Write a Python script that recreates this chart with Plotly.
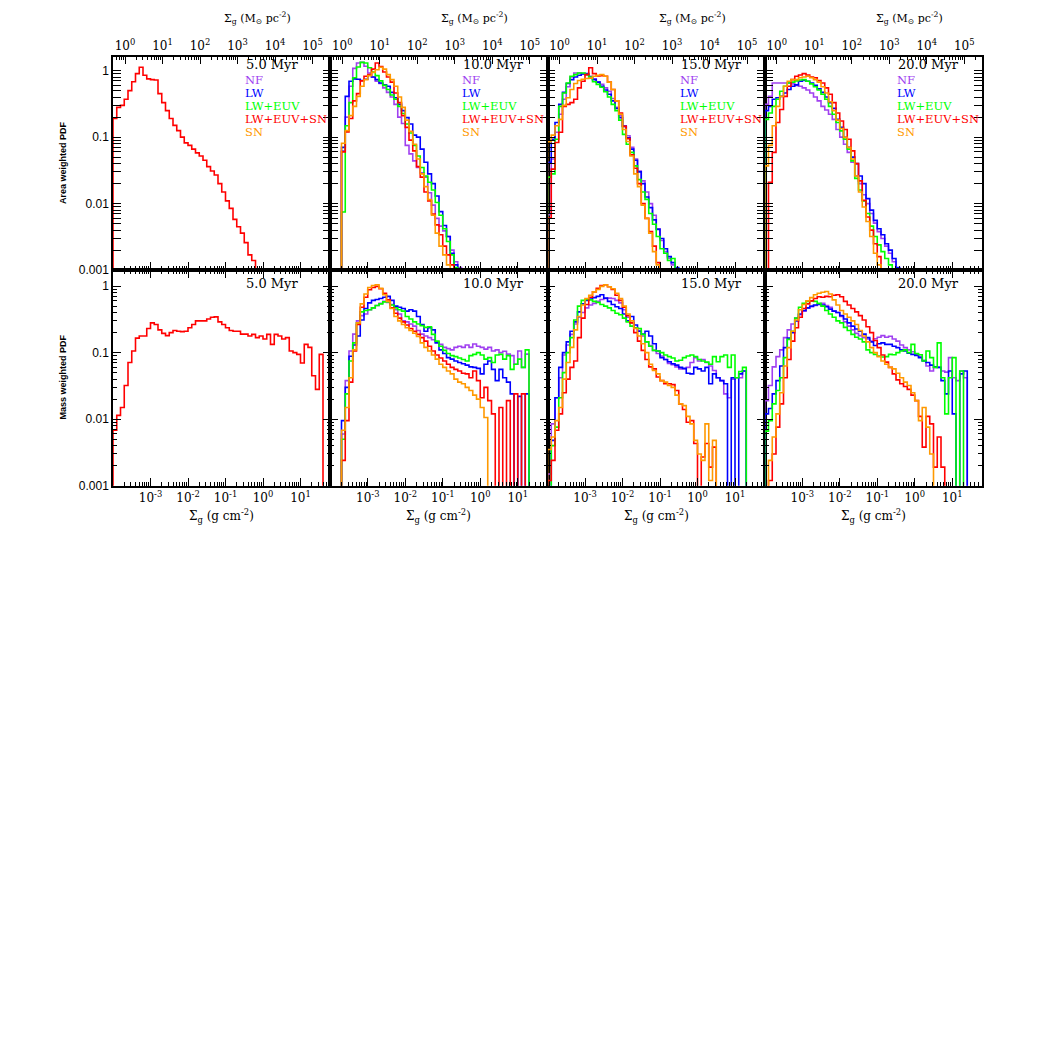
import numpy as np
import plotly.graph_objects as go

# ---------------- data (PDF values per 0.1-dex bin of log10 Sigma_g [g cm^-2]) ----------------
BIN_DEX = 0.1
LOG_G_TO_MSUN = 3.68          # 1 g cm^-2 = 10^3.68 Msun pc^-2
times = ["5.0 Myr", "10.0 Myr", "15.0 Myr", "20.0 Myr"]
models = ["NF", "LW", "LW+EUV", "LW+EUV+SN", "SN"]
model_colors = ["#A040F0", "#0000FF", "#00FF00", "#FF0000", "#FF9900"]

x_tick_vals = [1e-3, 1e-2, 1e-1, 1e0, 1e1]
x_tick_text = ["10<sup>-3</sup>", "10<sup>-2</sup>", "10<sup>-1</sup>", "10<sup>0</sup>", "10<sup>1</sup>"]
top_tick_vals = [1e0, 1e1, 1e2, 1e3, 1e4, 1e5]
top_tick_text = ["10<sup>0</sup>", "10<sup>1</sup>", "10<sup>2</sup>", "10<sup>3</sup>", "10<sup>4</sup>", "10<sup>5</sup>"]
y_tick_vals = [1e-3, 1e-2, 1e-1, 1e0]
y_tick_text = ["0.001", "0.01", "0.1", "1"]

# --- area weighted, 5 Myr (all runs identical) ---
area05_start = -4.0
area05_all = [0.19, 0.28, 0.30, 0.37, 0.50, 0.68, 0.90, 1.12, 0.85, 0.75, 0.73, 0.72, 0.45, 0.33, 0.25,
              0.19, 0.15, 0.125, 0.10, 0.082, 0.075, 0.066, 0.058, 0.052, 0.045, 0.036, 0.031, 0.027,
              0.020, 0.015, 0.011, 0.0085, 0.0058, 0.0045, 0.0036, 0.0026, 0.0017, 0.0014]

# --- area weighted, 10 Myr ---
area10_start = -3.7
area10_NF = [0.062, 0.2, 0.58, 1.08, 1.30, 1.33, 1.16, 0.92, 0.80, 0.69, 0.64, 0.55, 0.47, 0.40, 0.31,
             0.20, 0.16, 0.075, 0.056, 0.044, 0.035, 0.029, 0.025, 0.0146, 0.0095, 0.006, 0.0046,
             0.0039, 0.0032, 0.0020, 0.00134, 0.0011]
area10_LW = [0.07, 0.41, 0.69, 0.75, 0.74, 0.71, 0.74, 0.85, 0.80, 0.73, 0.65, 0.61, 0.58, 0.47, 0.39,
             0.31, 0.25, 0.196, 0.157, 0.107, 0.10, 0.066, 0.042, 0.028, 0.020, 0.013, 0.0076, 0.0047,
             0.0032, 0.0018, 0.0012]
area10_EUV = [0.0075, 0.148, 0.33, 0.78, 1.13, 1.33, 1.30, 1.10, 0.95, 0.84, 0.70, 0.60, 0.52, 0.43,
              0.37, 0.29, 0.226, 0.157, 0.115, 0.075, 0.052, 0.035, 0.026, 0.021, 0.016, 0.0104,
              0.0067, 0.0042, 0.0027, 0.0017, 0.0011]
area10_EUVSN = [0.06, 0.12, 0.19, 0.35, 0.45, 0.70, 0.82, 0.87, 1.05, 1.30, 1.15, 0.95, 0.80, 0.67,
                0.46, 0.33, 0.21, 0.14, 0.09, 0.062, 0.036, 0.025, 0.015, 0.011, 0.007, 0.0048,
                0.0034, 0.0023, 0.0017, 0.0012]
area10_SN = [0.081, 0.125, 0.21, 0.29, 0.41, 0.58, 0.73, 0.84, 0.94, 1.03, 1.12, 1.05, 0.87, 0.73,
             0.58, 0.40, 0.28, 0.18, 0.122, 0.078, 0.047, 0.028, 0.018, 0.0115, 0.0067, 0.0036,
             0.0023, 0.0017, 0.0012]

# --- area weighted, 15 Myr ---
area15_start = -4.0
area15_NF = [0.0068, 0.047, 0.118, 0.22, 0.37, 0.57, 0.80, 0.92, 0.92, 0.90, 0.87, 0.82, 0.75, 0.67,
             0.62, 0.55, 0.49, 0.38, 0.28, 0.21, 0.148, 0.105, 0.07, 0.047, 0.031, 0.022, 0.015,
             0.01, 0.0067, 0.0042, 0.0028, 0.0019, 0.0015, 0.0012]
area15_LW = [0.042, 0.093, 0.166, 0.31, 0.47, 0.64, 0.73, 0.80, 0.85, 0.89, 0.90, 0.80, 0.73, 0.67,
             0.58, 0.51, 0.44, 0.35, 0.27, 0.196, 0.145, 0.098, 0.066, 0.045, 0.030, 0.020, 0.0126,
             0.0087, 0.0057, 0.0041, 0.003, 0.0021, 0.0016, 0.0013, 0.0011]
area15_EUV = [0.025, 0.028, 0.093, 0.29, 0.46, 0.65, 0.82, 0.87, 0.92, 0.92, 0.87, 0.80, 0.68, 0.62,
              0.56, 0.48, 0.40, 0.31, 0.25, 0.18, 0.11, 0.078, 0.059, 0.037, 0.023, 0.015, 0.0116,
              0.0071, 0.0049, 0.0032, 0.0021, 0.0018, 0.0014, 0.0015]
area15_EUVSN = [0.0061, 0.033, 0.083, 0.118, 0.29, 0.31, 0.33, 0.37, 0.55, 0.69, 0.87, 1.10, 0.90,
                0.83, 0.84, 0.82, 0.67, 0.52, 0.35, 0.23, 0.145, 0.095, 0.054, 0.034, 0.020, 0.010,
                0.006, 0.0038, 0.0023, 0.0013]
area15_SN = [0.085, 0.107, 0.148, 0.185, 0.30, 0.39, 0.52, 0.64, 0.71, 0.74, 0.76, 0.77, 0.82, 0.85,
             0.87, 0.82, 0.67, 0.52, 0.35, 0.22, 0.13, 0.086, 0.052, 0.028, 0.018, 0.0095, 0.006,
             0.0036, 0.0019, 0.0012]

# --- area weighted, 20 Myr ---
area20_start = -4.0
area20_red_start = -3.9
area20_NF = [0.31, 0.41, 0.65, 0.65, 0.65, 0.65, 0.65, 0.63, 0.60, 0.58, 0.55, 0.51, 0.46, 0.40, 0.35,
             0.29, 0.256, 0.22, 0.185, 0.13, 0.10, 0.078, 0.059, 0.042, 0.026, 0.020, 0.0136, 0.010,
             0.0071, 0.0051, 0.0038, 0.0030, 0.0023, 0.0018, 0.00134]
area20_LW = [0.25, 0.29, 0.37, 0.39, 0.41, 0.46, 0.52, 0.58, 0.61, 0.69, 0.71, 0.69, 0.65, 0.60, 0.53,
             0.47, 0.40, 0.33, 0.27, 0.185, 0.14, 0.099, 0.070, 0.050, 0.040, 0.026, 0.020, 0.0119,
             0.0080, 0.0056, 0.0042, 0.0034, 0.0025, 0.0020, 0.0015, 0.0011]
area20_EUV = [0.185, 0.23, 0.29, 0.37, 0.49, 0.58, 0.65, 0.67, 0.70, 0.72, 0.73, 0.69, 0.63, 0.57,
              0.51, 0.44, 0.37, 0.29, 0.22, 0.166, 0.124, 0.093, 0.066, 0.044, 0.024, 0.016, 0.011,
              0.0071, 0.0046, 0.0032, 0.0024, 0.0019, 0.0015, 0.0012]
area20_EUVSN = [0.021, 0.059, 0.166, 0.26, 0.41, 0.58, 0.73, 0.82, 0.86, 0.90, 0.86, 0.80, 0.78, 0.71,
                0.65, 0.55, 0.44, 0.33, 0.23, 0.175, 0.13, 0.093, 0.062, 0.040, 0.022, 0.0112,
                0.0063, 0.0040, 0.0025, 0.0016]
area20_SN = [0.037, 0.075, 0.148, 0.29, 0.41, 0.58, 0.69, 0.73, 0.73, 0.78, 0.80, 0.82, 0.78, 0.73,
             0.67, 0.57, 0.46, 0.34, 0.25, 0.18, 0.135, 0.099, 0.070, 0.047, 0.026, 0.015, 0.0089,
             0.0054, 0.0032, 0.0018, 0.0012]

# --- mass weighted, 5 Myr (all runs identical) ---
mass05_start = -4.0
mass05_all = [0.0068, 0.0114, 0.015, 0.032, 0.071, 0.106, 0.165, 0.178, 0.178, 0.23, 0.28, 0.265, 0.22,
              0.195, 0.18, 0.20, 0.215, 0.21, 0.207, 0.21, 0.236, 0.265, 0.30, 0.30, 0.30, 0.32, 0.34,
              0.345, 0.29, 0.265, 0.236, 0.215, 0.21, 0.21, 0.19, 0.19, 0.178, 0.188, 0.168, 0.178,
              0.16, 0.188, 0.133, 0.188, 0.178, 0.16, 0.168, 0.106, 0.10, 0.094, 0.07, 0.133, 0.12,
              0.045, 0.028, 0.094]

# --- mass weighted, 10 Myr ---
mass10_start = -3.7
mass10_NF = [0.006, 0.038, 0.106, 0.19, 0.30, 0.36, 0.38, 0.44, 0.47, 0.51, 0.55, 0.59, 0.57, 0.53,
             0.44, 0.38, 0.30, 0.29, 0.27, 0.25, 0.215, 0.19, 0.178, 0.168, 0.156, 0.145, 0.133, 0.12,
             0.115, 0.11, 0.12, 0.125, 0.12, 0.13, 0.12, 0.135, 0.125, 0.12, 0.113, 0.12, 0.106,
             0.11, 0.10, 0.105, 0.095, 0.09, 0.067, 0.106, 0.06, 0.095]
mass10_LW = [0.0095, 0.030, 0.088, 0.13, 0.178, 0.31, 0.46, 0.56, 0.61, 0.63, 0.65, 0.68, 0.70, 0.61,
             0.50, 0.48, 0.46, 0.42, 0.44, 0.42, 0.35, 0.265, 0.21, 0.236, 0.22, 0.14, 0.11, 0.097,
             0.084, 0.08, 0.075, 0.071, 0.068, 0.065, 0.061, 0.06, 0.058, 0.048, 0.067, 0.075, 0.056,
             0.038, 0.056, 0.042, 0.036, 0.024, 0, 0.022, 0, 0.024]
mass10_EUV = [0.005, 0.024, 0.075, 0.14, 0.28, 0.41, 0.43, 0.44, 0.47, 0.51, 0.54, 0.58, 0.58, 0.52,
              0.47, 0.44, 0.42, 0.35, 0.32, 0.29, 0.27, 0.255, 0.24, 0.245, 0.188, 0.149, 0.125,
              0.108, 0.097, 0.09, 0.087, 0.083, 0.079, 0.075, 0.09, 0.094, 0.10, 0.092, 0.08, 0.084,
              0.071, 0.092, 0.094, 0.08, 0.09, 0.056, 0.067, 0.08, 0.06, 0.11]
mass10_EUVSN = [0.0024, 0.0095, 0.036, 0.106, 0.265, 0.48, 0.68, 0.88, 0.95, 0.99, 0.91, 0.78, 0.62,
                0.47, 0.39, 0.33, 0.29, 0.26, 0.23, 0.21, 0.188, 0.168, 0.149, 0.125, 0.106, 0.092,
                0.083, 0.075, 0.067, 0.06, 0.056, 0.053, 0.049, 0.048, 0.042, 0.053, 0.038, 0.021,
                0.03, 0.019, 0.012, 0, 0.015, 0, 0.019, 0, 0.024, 0, 0.024]
mass10_SN = [0.0068, 0.015, 0.042, 0.11, 0.28, 0.54, 0.76, 0.95, 1.02, 1.05, 0.93, 0.74, 0.59, 0.46,
             0.35, 0.30, 0.265, 0.236, 0.215, 0.196, 0.175, 0.14, 0.12, 0.106, 0.092, 0.08, 0.067,
             0.06, 0.053, 0.048, 0.04, 0.036, 0.034, 0.030, 0.027, 0.023, 0.020, 0.015, 0.0106]

# --- mass weighted, 15 Myr ---
mass15_start = -4.0
mass15_late_start = -3.9
mass15_NF = [0.0015, 0.0085, 0.021, 0.042, 0.092, 0.13, 0.188, 0.27, 0.34, 0.40, 0.47, 0.52, 0.55,
             0.59, 0.63, 0.65, 0.66, 0.65, 0.61, 0.56, 0.44, 0.34, 0.28, 0.236, 0.215, 0.178, 0.145,
             0.128, 0.108, 0.097, 0.089, 0.079, 0.069, 0.066, 0.061, 0.057, 0.057, 0.06, 0.071,
             0.084, 0.075, 0.079, 0.071, 0.063, 0.054, 0.042, 0.038, 0.024, 0.021, 0.040, 0.042,
             0.042, 0.053]
mass15_LW = [0.0048, 0.021, 0.06, 0.10, 0.145, 0.21, 0.29, 0.41, 0.54, 0.61, 0.64, 0.67, 0.70, 0.74,
             0.66, 0.59, 0.53, 0.49, 0.46, 0.38, 0.30, 0.35, 0.26, 0.21, 0.19, 0.21, 0.178, 0.136,
             0.106, 0.084, 0.079, 0.073, 0.068, 0.065, 0.06, 0.058, 0.049, 0.048, 0.06, 0.057,
             0.053, 0.06, 0.034, 0.048, 0.042, 0.038, 0.034, 0, 0.042, 0, 0.048, 0.053]
mass15_EUV = [0.004, 0.0076, 0.021, 0.050, 0.10, 0.168, 0.31, 0.50, 0.61, 0.63, 0.62, 0.59, 0.57, 0.53,
              0.50, 0.47, 0.43, 0.39, 0.37, 0.33, 0.29, 0.25, 0.236, 0.23, 0.188, 0.145, 0.125,
              0.108, 0.106, 0.10, 0.092, 0.087, 0.083, 0.075, 0.077, 0.084, 0.089, 0.092, 0.087,
              0.079, 0.075, 0.072, 0.067, 0.087, 0.073, 0.087, 0.092, 0.06, 0.092, 0.042, 0.052, 0.06]
mass15_EUVSN = [0.0012, 0.0024, 0.0068, 0.012, 0.025, 0.040, 0.060, 0.075, 0.168, 0.33, 0.53, 0.68,
                0.82, 0.93, 1.02, 1.05, 0.98, 0.89, 0.73, 0.61, 0.48, 0.36, 0.28, 0.20, 0.149, 0.108,
                0.079, 0.061, 0.057, 0.043, 0.038, 0.034, 0.034, 0.033, 0.027, 0.017, 0.014, 0.009,
                0.0095, 0.0043, 0, 0.0027, 0.0043, 0.0019, 0.0038]
mass15_SN = [0.0035, 0.0054, 0.0095, 0.015, 0.040, 0.071, 0.12, 0.22, 0.35, 0.52, 0.65, 0.73, 0.82,
             0.89, 0.99, 1.05, 0.98, 0.91, 0.78, 0.65, 0.50, 0.38, 0.30, 0.23, 0.178, 0.136, 0.10,
             0.067, 0.054, 0.048, 0.038, 0.036, 0.032, 0.030, 0.023, 0.017, 0.016, 0.011, 0.0085,
             0.0048, 0.0030, 0.0024, 0.0085, 0.0012, 0.0048]

# --- mass weighted, 20 Myr ---
mass20_start = -4.0
mass20_late_start = -3.9
mass20_NF = [0.019, 0.032, 0.061, 0.087, 0.11, 0.168, 0.22, 0.27, 0.33, 0.37, 0.42, 0.47, 0.49, 0.51,
             0.54, 0.55, 0.51, 0.48, 0.42, 0.40, 0.35, 0.29, 0.25, 0.22, 0.195, 0.18, 0.168, 0.16,
             0.149, 0.162, 0.17, 0.18, 0.17, 0.176, 0.16, 0.149, 0.13, 0.119, 0.11, 0.103, 0.094,
             0.087, 0.077, 0.063, 0.053, 0.06, 0.06, 0.053, 0.051, 0.084, 0.042, 0.038, 0.053, 0.042]
mass20_LW = [0.012, 0.0145, 0.024, 0.038, 0.063, 0.119, 0.165, 0.20, 0.30, 0.38, 0.43, 0.47, 0.50, 0.52,
             0.53, 0.52, 0.49, 0.45, 0.42, 0.40, 0.36, 0.32, 0.28, 0.25, 0.226, 0.21, 0.19, 0.168,
             0.145, 0.128, 0.136, 0.14, 0.133, 0.133, 0.125, 0.119, 0.11, 0.106, 0.098, 0.094, 0.091,
             0.084, 0.075, 0.071, 0.065, 0.061, 0.06, 0.038, 0.024, 0.053, 0.012, 0, 0.048, 0.053]
mass20_EUV = [0.0066, 0.0095, 0.017, 0.027, 0.042, 0.084, 0.158, 0.21, 0.33, 0.48, 0.55, 0.59, 0.60,
              0.59, 0.55, 0.50, 0.43, 0.38, 0.34, 0.30, 0.28, 0.24, 0.215, 0.188, 0.17, 0.16, 0.145,
              0.11, 0.10, 0.094, 0.089, 0.086, 0.087, 0.094, 0.093, 0.10, 0.106, 0.11, 0.10, 0.133,
              0.097, 0.093, 0.075, 0.106, 0.084, 0.06, 0.14, 0.042, 0.012, 0.042, 0.084, 0, 0.053]
mass20_EUVSN = [0.0012, 0.003, 0.0076, 0.017, 0.042, 0.079, 0.149, 0.236, 0.34, 0.46, 0.54, 0.60, 0.65,
                0.69, 0.68, 0.70, 0.69, 0.73, 0.74, 0.69, 0.59, 0.52, 0.46, 0.41, 0.36, 0.31, 0.245,
                0.20, 0.152, 0.119, 0.092, 0.072, 0.06, 0.048, 0.039, 0.034, 0.031, 0.028, 0.023,
                0.019, 0.011, 0.0038, 0.011, 0.0085, 0.0019, 0.0054, 0.0019]
mass20_SN = [0.0024, 0.0054, 0.012, 0.025, 0.063, 0.119, 0.21, 0.31, 0.44, 0.53, 0.60, 0.67, 0.74, 0.78,
             0.81, 0.83, 0.76, 0.62, 0.52, 0.43, 0.38, 0.34, 0.30, 0.265, 0.215, 0.178, 0.145, 0.119,
             0.10, 0.087, 0.075, 0.067, 0.06, 0.057, 0.049, 0.042, 0.036, 0.032, 0.025, 0.019,
             0.0095, 0.015, 0.0076, 0.003]

# (model index, first-bin log edge, values) per panel
panel_series = {
    (0, 0): [(3, area05_start, area05_all)],
    (0, 1): [(0, area10_start, area10_NF), (1, area10_start, area10_LW), (2, area10_start, area10_EUV),
             (3, area10_start, area10_EUVSN), (4, area10_start, area10_SN)],
    (0, 2): [(0, area15_start, area15_NF), (1, area15_start, area15_LW), (2, area15_start, area15_EUV),
             (3, area15_start, area15_EUVSN), (4, area15_start, area15_SN)],
    (0, 3): [(0, area20_start, area20_NF), (1, area20_start, area20_LW), (2, area20_start, area20_EUV),
             (3, area20_red_start, area20_EUVSN), (4, area20_start, area20_SN)],
    (1, 0): [(3, mass05_start, mass05_all)],
    (1, 1): [(0, mass10_start, mass10_NF), (1, mass10_start, mass10_LW), (2, mass10_start, mass10_EUV),
             (3, mass10_start, mass10_EUVSN), (4, mass10_start, mass10_SN)],
    (1, 2): [(0, mass15_start, mass15_NF), (1, mass15_late_start, mass15_LW),
             (2, mass15_late_start, mass15_EUV), (3, mass15_start, mass15_EUVSN),
             (4, mass15_start, mass15_SN)],
    (1, 3): [(0, mass20_start, mass20_NF), (1, mass20_start, mass20_LW), (2, mass20_start, mass20_EUV),
             (3, mass20_late_start, mass20_EUVSN), (4, mass20_late_start, mass20_SN)],
}

# ---------------- layout geometry ----------------
PAGE = 1038
BODY_MARGIN = 8                     # default page margin around the plot div
W = H = PAGE - 2 * BODY_MARGIN
FLOOR = 1e-7
PANEL_W = 217.25
COL_LEFT = [113 + PANEL_W * i for i in range(4)]
ROW_PX = [(57, 272), (272, 489)]
X_RANGE = [-4.0, -4.0 + PANEL_W / 37.5]
Y_RANGES = [[-3.0, 0.209], [-3.0, 0.239]]

SERIF = "DejaVu Serif"
SANS = "Liberation Sans"


def fx(p):
    return (p - BODY_MARGIN) / W


def fy(p):
    return 1 - (p - BODY_MARGIN) / H


def minor_vals(d0, d1):
    return [m * 10.0 ** d for d in range(d0, d1) for m in range(2, 10)]


def step_xy(start, vals):
    edges = 10 ** (start + BIN_DEX * np.arange(len(vals) + 1))
    v = [val if val > 0 else FLOOR for val in vals]
    xs = [edges[0]] + list(edges[:-1]) + [edges[-1]]
    ys = [FLOOR] + v + [FLOOR]
    return xs, ys


fig = go.Figure()
layout = dict(width=W, height=H, margin=dict(l=0, r=0, t=0, b=0), showlegend=False,
              plot_bgcolor="white", paper_bgcolor="white", hovermode=False)

tick_common = dict(showline=True, linecolor="black", linewidth=1.5, ticks="inside", ticklen=8,
                   tickwidth=1.3, tickcolor="black", showgrid=False, zeroline=False)

for r in range(2):
    for c in range(4):
        idx = r * 4 + c + 1
        xn = "xaxis" if idx == 1 else f"xaxis{idx}"
        yn = "yaxis" if idx == 1 else f"yaxis{idx}"
        xa = "x" if idx == 1 else f"x{idx}"
        ya = "y" if idx == 1 else f"y{idx}"
        L = COL_LEFT[c]
        layout[xn] = dict(type="log", range=X_RANGE, domain=[fx(L), fx(L + PANEL_W)], anchor=ya,
                          tickmode="array", tickvals=x_tick_vals, ticktext=x_tick_text,
                          showticklabels=(r == 1), mirror=("allticks" if r == 1 else False),
                          tickfont=dict(family=SERIF, size=12, color="black"),
                          minor=dict(tickmode="array", tickvals=minor_vals(-5, 2), ticks="inside",
                                     ticklen=4, tickwidth=1, tickcolor="black", showgrid=False),
                          **tick_common)
        top, bot = ROW_PX[r]
        layout[yn] = dict(type="log", range=Y_RANGES[r], domain=[fy(bot), fy(top)], anchor=xa,
                          tickmode="array", tickvals=y_tick_vals, ticktext=y_tick_text,
                          showticklabels=(c == 0), mirror="allticks",
                          tickfont=dict(family=SANS, size=12, color="black"),
                          minor=dict(tickmode="array", tickvals=minor_vals(-3, 1), ticks="inside",
                                     ticklen=4, tickwidth=1, tickcolor="black", showgrid=False),
                          **tick_common)
        for (m, start, vals) in panel_series[(r, c)]:
            xs, ys = step_xy(start, vals)
            fig.add_trace(go.Scatter(x=xs, y=ys, mode="lines", line_shape="hv",
                                     line=dict(color=model_colors[m], width=1.6),
                                     xaxis=xa, yaxis=ya, hoverinfo="skip"))
        if r == 0:
            # top axis in Msun pc^-2
            oidx = 9 + c
            layout[f"xaxis{oidx}"] = dict(type="log", overlaying=xa, side="top", anchor=ya,
                                          range=[X_RANGE[0] + LOG_G_TO_MSUN, X_RANGE[1] + LOG_G_TO_MSUN],
                                          tickmode="array", tickvals=top_tick_vals, ticktext=top_tick_text,
                                          tickfont=dict(family=SERIF, size=12, color="black"),
                                          minor=dict(tickmode="array", tickvals=minor_vals(-1, 6),
                                                     ticks="inside", ticklen=4, tickwidth=1,
                                                     tickcolor="black", showgrid=False),
                                          **tick_common)
            fig.add_trace(go.Scatter(x=[10.0], y=[0.5], mode="markers", marker=dict(opacity=0),
                                     xaxis=f"x{oidx}", yaxis=ya, hoverinfo="skip"))

fig.update_layout(**layout)

# ---------------- annotations ----------------
ann = []
for c in range(4):
    L = COL_LEFT[c]
    cx = L + PANEL_W / 2
    ann.append(dict(x=fx(cx + 36), y=fy(18), text="Σ<sub>g</sub> (M<sub>⊙</sub> pc<sup>-2</sup>)",
                    font=dict(family=SERIF, size=11, color="black")))
    ann.append(dict(x=fx(cx), y=fy(519), text="Σ<sub>g</sub> (g cm<sup>-2</sup>)",
                    font=dict(family=SERIF, size=12, color="black")))
    ann.append(dict(x=fx(L + 131), y=fy(65), text=times[c], xanchor="left",
                    font=dict(family=SERIF, size=13, color="black")))
    ann.append(dict(x=fx(L + 131), y=fy(285), text=times[c], xanchor="left",
                    font=dict(family=SERIF, size=13, color="black")))
    for k, (name, col) in enumerate(zip(models, model_colors)):
        ann.append(dict(x=fx(L + 130), y=fy(80 + 13.3 * k), text=name, xanchor="left",
                        font=dict(family=SERIF, size=11.5, color=col)))
ann.append(dict(x=fx(63), y=fy(164), text="<b>Area weighted PDF</b>", textangle=-90,
                font=dict(family=SANS, size=9, color="black")))
ann.append(dict(x=fx(63), y=fy(380), text="<b>Mass weighted PDF</b>", textangle=-90,
                font=dict(family=SANS, size=9, color="black")))
for a in ann:
    a.update(xref="paper", yref="paper", showarrow=False)
    a.setdefault("xanchor", "center")
    a.setdefault("yanchor", "middle")
fig.update_layout(annotations=ann)

fig.write_html("out.html")
